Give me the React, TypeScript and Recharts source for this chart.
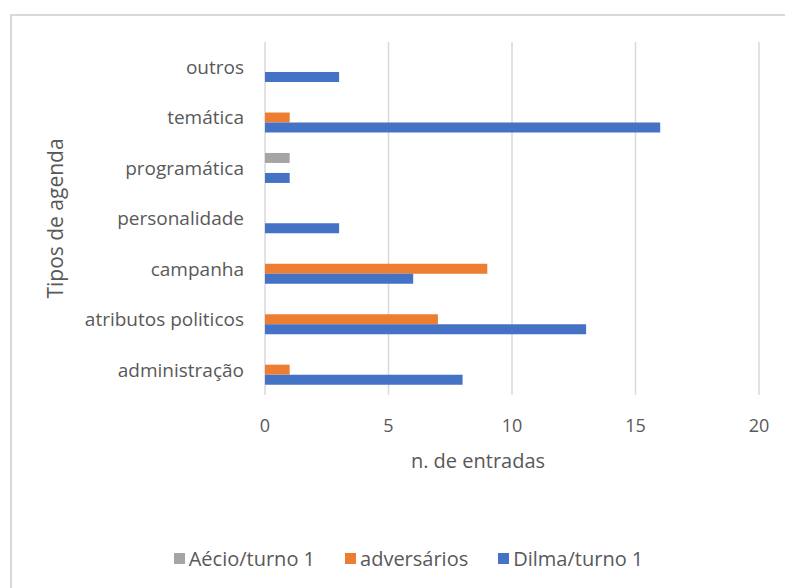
import { BarChart, Bar, XAxis, YAxis, CartesianGrid, Legend } from 'recharts';

const categories = [
  'outros',
  'temática',
  'programática',
  'personalidade',
  'campanha',
  'atributos politicos',
  'administração',
];
const aecio = [0, 0, 1, 0, 0, 0, 0];
const adversarios = [0, 1, 0, 0, 9, 7, 1];
const dilma = [3, 16, 1, 3, 6, 13, 8];
const xTicks = [0, 5, 10, 15, 20];
const seriesOrder = ['aecio', 'adversarios', 'dilma'];

const data = categories.map((name, i) => ({
  name,
  aecio: aecio[i],
  adversarios: adversarios[i],
  dilma: dilma[i],
}));

const font = "'Open Sans', 'Noto Sans', sans-serif";
const textColor = '#595959';

const renderLegend = (props: any) => {
  const items = [...(props.payload || [])].sort(
    (a: any, b: any) => seriesOrder.indexOf(a.dataKey) - seriesOrder.indexOf(b.dataKey)
  );
  return (
    <div
      style={{
        display: 'flex',
        justifyContent: 'center',
        alignItems: 'center',
        gap: 30,
        height: 24,
        paddingLeft: 32,
        fontFamily: font,
        fontSize: 20,
        color: textColor,
      }}
    >
      {items.map((entry: any) => (
        <span key={entry.value} style={{ display: 'flex', alignItems: 'center' }}>
          <span
            style={{
              display: 'inline-block',
              width: 11,
              height: 11,
              background: entry.color,
              marginRight: 4,
            }}
          />
          {entry.value}
        </span>
      ))}
    </div>
  );
};

const xTitle = (props: any) => {
  const { viewBox } = props;
  return (
    <text
      x={viewBox.x + viewBox.width / 2 - 34}
      y={viewBox.y + 73}
      textAnchor='middle'
      fontFamily={font}
      fontSize={20}
      fill={textColor}
    >
      n. de entradas
    </text>
  );
};

export default function App() {
  return (
    <div
      style={{
        position: 'absolute',
        left: 0,
        top: 0,
        width: 785,
        height: 588,
        overflow: 'hidden',
        background: '#fff',
      }}
    >
      <div
        style={{
          position: 'absolute',
          left: 10,
          top: 14,
          width: 800,
          height: 600,
          border: '2px solid #d9d9d9',
        }}
      />
      <div style={{ position: 'absolute', left: 0, top: 0 }}>
        <BarChart
          width={785}
          height={588}
          data={data}
          layout='vertical'
          margin={{ top: 42, right: 26, left: 0, bottom: 0 }}
          barCategoryGap='20%'
          barGap={0}
        >
          <CartesianGrid horizontal={false} stroke='#d9d9d9' strokeWidth={1.5} />
          <XAxis
            type='number'
            domain={[0, 20]}
            ticks={xTicks}
            axisLine={false}
            tickLine={false}
            tickSize={0}
            tickMargin={24}
            height={169}
            tick={{ fontSize: 18, fill: textColor, fontFamily: font }}
            label={xTitle}
          />
          <YAxis
            type='category'
            dataKey='name'
            width={265}
            axisLine={false}
            tickLine={false}
            tickSize={0}
            tickMargin={21}
            interval={0}
            tick={{ fontSize: 19, fill: textColor, fontFamily: font }}
            label={{
              value: 'Tipos de agenda',
              angle: -90,
              position: 'insideLeft',
              offset: 56,
              style: { textAnchor: 'middle', fontSize: 21, fill: textColor, fontFamily: font },
            }}
          />
          <Legend
            verticalAlign='bottom'
            content={renderLegend}
            wrapperStyle={{ left: 0, width: 785, top: 546, bottom: 'auto' }}
          />
          <Bar dataKey='aecio' name='Aécio/turno 1' fill='#A5A5A5' isAnimationActive={false} />
          <Bar dataKey='adversarios' name='adversários' fill='#ED7D31' isAnimationActive={false} />
          <Bar dataKey='dilma' name='Dilma/turno 1' fill='#4472C4' isAnimationActive={false} />
        </BarChart>
      </div>
    </div>
  );
}
